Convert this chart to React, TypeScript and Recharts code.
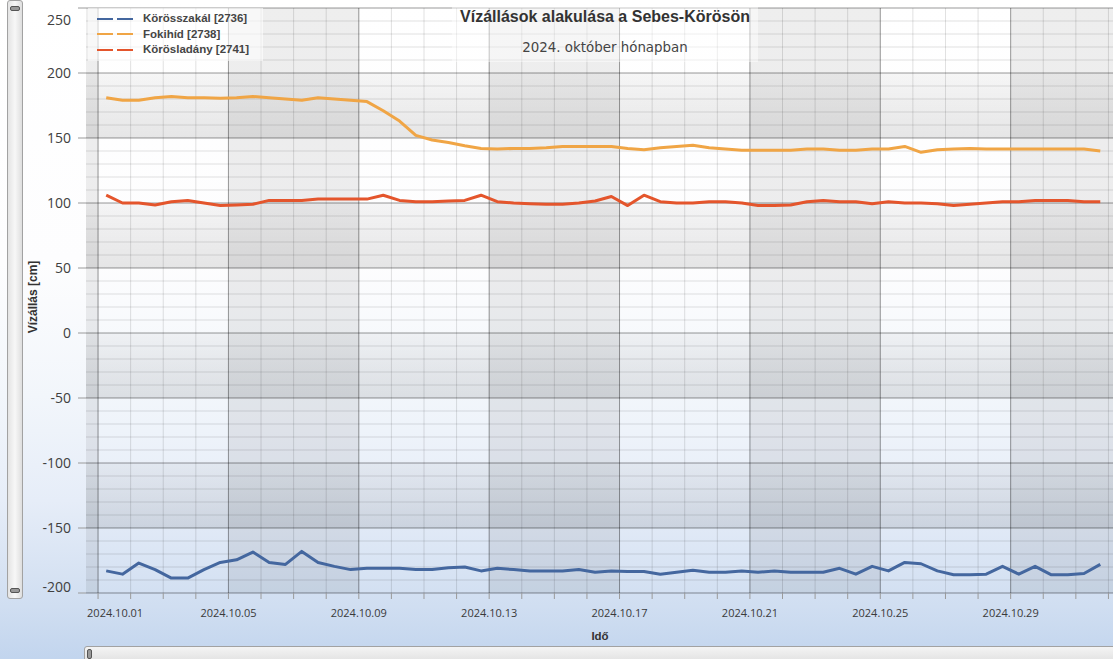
import React from "react";
import {
  ComposedChart,
  Line,
  XAxis,
  YAxis,
  CartesianGrid,
  ReferenceArea,
  Legend,
} from "recharts";

// readings: twice a day, 06:00 and 18:00, 2024.10.01 - 2024.10.31
const days = Array.from({ length: 31 }, (_, i) => i + 1);
const hours = [6, 18];

const korosszakal = [
  -183, -185.5, -177, -182, -188.5, -188.5, -182, -176.5, -174.5, -168.5,
  -176.5, -178, -168, -176.5, -179.5, -182, -181, -181, -181, -182,
  -182, -180.5, -180, -183, -181, -182, -183, -183, -183, -182,
  -184, -183, -183.5, -183.5, -185.5, -184, -182.5, -184, -184, -183,
  -184, -183, -184, -184, -184, -181, -185.5, -179.5, -183, -176.5,
  -177.5, -183, -186, -186, -185.5, -179.5, -185.5, -179.5, -186, -186,
  -185, -178,
];
const fokihid = [
  181, 179, 179, 181, 182, 181, 181, 180.5, 181, 182,
  181, 180, 179, 181, 180, 179, 178, 171, 163, 152,
  148.5, 146.5, 144, 142, 141.5, 142, 142, 142.5, 143.5, 143.5,
  143.5, 143.5, 142, 141, 142.5, 143.5, 144.5, 142.5, 141.5, 140.5,
  140.5, 140.5, 140.5, 141.5, 141.5, 140.5, 140.5, 141.5, 141.5, 143.5,
  139, 141, 141.5, 142, 141.5, 141.5, 141.5, 141.5, 141.5, 141.5,
  141.5, 140,
];
const korosladany = [
  106, 100, 100, 98.5, 101, 102, 100, 98, 98.5, 99,
  102, 102, 102, 103, 103, 103, 103, 106, 102, 101,
  101, 101.5, 102, 106, 101, 100, 99.5, 99, 99, 100,
  101.5, 105, 98, 106, 101, 100, 100, 101, 101, 100,
  98, 98, 98.5, 101, 102, 101, 101, 99.5, 101, 100,
  100, 99.5, 98, 99, 100, 101, 101, 102, 102, 102,
  101, 101,
];

const seriesKeys = ["a", "b", "c"];
const seriesNames = ["Körösszakál [2736]", "Fokihíd [2738]", "Körösladány [2741]"];
const seriesColors = ["#44679f", "#f0a545", "#e4552c"];

const xMajorTicks = [1, 5, 9, 13, 17, 21, 25, 29];
const xMinorTicks = Array.from({ length: 32 }, (_, i) => i + 1);
const xDomain = [0.63, 32.14];
const yMajorTicks = [-200, -150, -100, -50, 0, 50, 100, 150, 200, 250];
const yMinorTicks = Array.from({ length: 46 }, (_, i) => -200 + i * 10);

const times = days.flatMap((d) => hours.map((h) => d + h / 24));
const data = times.map((t, i) => ({
  t,
  a: korosszakal[i],
  b: fokihid[i],
  c: korosladany[i],
}));

// alternating shaded bands (columns between major x ticks, rows between major y ticks)
const colEdges = [xDomain[0], ...xMajorTicks, xDomain[1]];
const colBands = colEdges.slice(0, -1).map((x1, i) => ({ x1, x2: colEdges[i + 1], grey: i % 2 === 0 }));
const rowBands = yMajorTicks.slice(0, -1).map((y1, i) => ({ y1, y2: yMajorTicks[i + 1], grey: i % 2 === 1 }));

const fmtDay = (d: number) => `2024.10.${String(d).padStart(2, "0")}`;

const UI_FONT = "'Open Sans', 'Noto Sans', sans-serif";
const BOLD_FONT = "'Liberation Sans', Arial, sans-serif";

function XTick({ x, y, payload }: any) {
  const v = payload.value;
  if (!xMajorTicks.includes(v)) return <g />;
  const first = v === xMajorTicks[0];
  return (
    <text
      x={x}
      y={y}
      dx={first ? -11 : 0}
      dy="0.71em"
      textAnchor={first ? "start" : "middle"}
      fontSize={11}
      fontFamily={UI_FONT}
      fill="#3a3a3a"
    >
      {fmtDay(v)}
    </text>
  );
}

function YTick({ x, y, payload }: any) {
  const v = payload.value;
  const shift = v === yMajorTicks[yMajorTicks.length - 1] ? 12 : v === yMajorTicks[0] ? -6 : 0;
  return (
    <text x={x} y={y + shift} dy="0.35em" textAnchor="end" fontSize={14} fontFamily={UI_FONT} fill="#404040">
      {v}
    </text>
  );
}

function LegendBox({ payload }: any) {
  const items = [...(payload || [])].sort(
    (p: any, q: any) => seriesNames.indexOf(p.value) - seriesNames.indexOf(q.value)
  );
  return (
    <div style={{ background: "rgba(255,255,255,0.6)", padding: "3px 0 3px 9px", width: 166 }}>
      {items.map((p: any) => (
        <div key={p.value} style={{ display: "flex", alignItems: "center", height: 15.5 }}>
          <svg width={36} height={4} style={{ display: "block" }}>
            <line x1={0} y1={2} x2={36} y2={2} stroke={p.color} strokeWidth={2} strokeDasharray="16 4" />
          </svg>
          <span
            style={{
              marginLeft: 10,
              fontWeight: 700,
              fontSize: 11.5,
              color: "#454545",
              fontFamily: BOLD_FONT,
              lineHeight: "15px",
            }}
          >
            {p.value}
          </span>
        </div>
      ))}
    </div>
  );
}

export default function App() {
  return (
    <div
      style={{
        position: "absolute",
        left: 0,
        top: 0,
        width: 1113,
        height: 659,
        overflow: "hidden",
        background:
          "linear-gradient(to bottom, #ffffff 0%, #fdfdfe 40%, #f2f6fb 60%, #e6edf8 76%, #d0def1 92%, #c2d5ee 100%)",
        fontFamily: UI_FONT,
      }}
    >
      <ComposedChart width={1113} height={659} data={data} margin={{ top: 8, right: 0, bottom: 36, left: 0 }}>
        <defs>
          <linearGradient id="rowGrey" x1="0" y1="0" x2="0" y2="1">
            <stop offset="0%" stopColor="#000" stopOpacity={0.035} />
            <stop offset="100%" stopColor="#000" stopOpacity={0.095} />
          </linearGradient>
        </defs>
        {colBands
          .filter((b) => b.grey)
          .map((b) => (
            <ReferenceArea key={`c${b.x1}`} x1={b.x1} x2={b.x2} fill="#000" fillOpacity={0.065} stroke="none" />
          ))}
        {rowBands
          .filter((b) => b.grey)
          .map((b) => (
            <ReferenceArea key={`r${b.y1}`} y1={b.y1} y2={b.y2} fill="url(#rowGrey)" fillOpacity={1} stroke="none" />
          ))}
        <CartesianGrid
          horizontalValues={yMinorTicks}
          verticalValues={xMinorTicks}
          stroke="#000"
          strokeOpacity={0.12}
        />
        <CartesianGrid
          horizontalValues={yMajorTicks}
          verticalValues={xMajorTicks}
          stroke="#000"
          strokeOpacity={0.3}
        />
        <XAxis
          dataKey="t"
          type="number"
          domain={xDomain}
          ticks={xMinorTicks}
          interval={0}
          height={30}
          axisLine={false}
          tickSize={6}
          tickMargin={10}
          tickLine={{ stroke: "#9a9a9a" }}
          tick={<XTick />}
        />
        <YAxis
          type="number"
          domain={[-200, 250]}
          ticks={yMajorTicks}
          interval={0}
          width={86}
          axisLine={false}
          tickSize={8}
          tickMargin={7}
          tickLine={{ stroke: "#9a9a9a" }}
          tick={<YTick />}
        />
        <Legend
          layout="vertical"
          align="center"
          verticalAlign="middle"
          wrapperStyle={{ top: 8, left: 88 }}
          content={<LegendBox />}
        />
        {seriesKeys.map((k, i) => (
          <Line
            key={k}
            type="linear"
            dataKey={k}
            name={seriesNames[i]}
            stroke={seriesColors[i]}
            strokeWidth={3}
            strokeLinejoin="round"
            dot={false}
            activeDot={false}
            isAnimationActive={false}
          />
        ))}
      </ComposedChart>

      {/* title block */}
      <div
        style={{
          position: "absolute",
          left: 452,
          top: 4,
          width: 306,
          height: 58,
          background: "rgba(255,255,255,0.45)",
          textAlign: "center",
        }}
      >
        <div
          style={{
            marginTop: 3,
            fontFamily: BOLD_FONT,
            fontWeight: 700,
            fontSize: 16,
            lineHeight: "20px",
            color: "#333",
          }}
        >
          Vízállások alakulása a Sebes-Körösön
        </div>
        <div
          style={{
            marginTop: 13,
            fontFamily: "'DejaVu Sans', sans-serif",
            fontSize: 13.4,
            lineHeight: "16px",
            color: "#444",
          }}
        >
          2024. október hónapban
        </div>
      </div>

      {/* axis titles */}
      <div
        style={{
          position: "absolute",
          left: 33,
          top: 297,
          transform: "translate(-50%, -50%) rotate(-90deg)",
          whiteSpace: "nowrap",
          fontFamily: BOLD_FONT,
          fontWeight: 700,
          fontSize: 12,
          color: "#333",
        }}
      >
        Vízállás [cm]
      </div>
      <div
        style={{
          position: "absolute",
          left: 600,
          top: 636,
          transform: "translate(-50%, -50%)",
          fontFamily: BOLD_FONT,
          fontWeight: 700,
          fontSize: 11.5,
          color: "#333",
        }}
      >
        Idő
      </div>

      {/* scroll bars */}
      <div
        style={{
          position: "absolute",
          left: 7,
          top: 0,
          width: 14,
          height: 597,
          border: "1px solid #a2a2a2",
          borderRadius: 3,
          background: "linear-gradient(to right, #e4e4e4, #f7f7f7 50%, #dedede)",
        }}
      >
        <div style={{ position: "absolute", left: 2, top: 5, width: 8, height: 3, border: "1px solid #555", borderRadius: 2, background: "#999" }} />
        <div style={{ position: "absolute", left: 2, bottom: 5, width: 8, height: 3, border: "1px solid #555", borderRadius: 2, background: "#999" }} />
      </div>
      <div
        style={{
          position: "absolute",
          left: 84,
          top: 646,
          width: 1040,
          height: 14,
          border: "1px solid #a2a2a2",
          borderRadius: 3,
          background: "linear-gradient(to bottom, #f4f4f4, #e2e2e2)",
        }}
      >
        <div style={{ position: "absolute", left: 2, top: 2, width: 3, height: 8, border: "1px solid #555", borderRadius: 2, background: "#999" }} />
      </div>
    </div>
  );
}
